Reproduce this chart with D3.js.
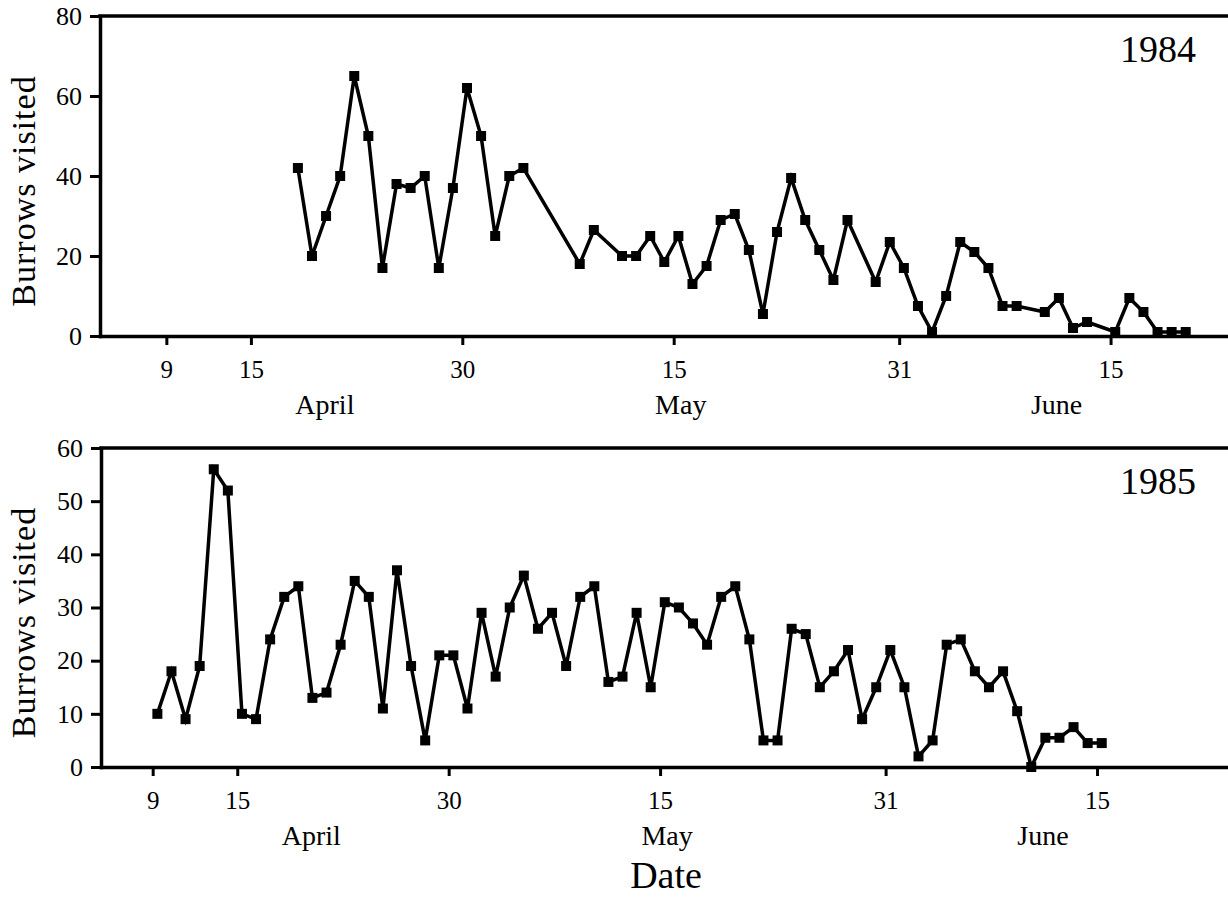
<!DOCTYPE html>
<html lang="en">
<head>
<meta charset="UTF-8"/>
<title>Burrows visited 1984 / 1985</title>
<script src="https://d3js.org/d3.v7.min.js"></script>
<style>
  body { margin: 0; background: #fff; }
  svg text { font-family: "Liberation Serif", "Times New Roman", serif; fill: #000; }
</style>
</head>
<body>
<div id="chart"></div>
<script>
// 1984 survey days (month-day) and burrows visited
var dates1984 = ["04-18","04-19","04-20","04-21","04-22","04-23","04-24","04-25","04-26","04-27",
  "04-28","04-29","04-30","05-01","05-02","05-03","05-04","05-08","05-09","05-11",
  "05-12","05-13","05-14","05-15","05-16","05-17","05-18","05-19","05-20","05-21",
  "05-22","05-23","05-24","05-25","05-26","05-27","05-29","05-30","05-31","06-01",
  "06-02","06-03","06-04","06-05","06-06","06-07","06-08","06-10","06-11","06-12",
  "06-13","06-15","06-16","06-17","06-18","06-19","06-20"];
var visits1984 = [42, 20, 30, 40, 65, 50, 17, 38, 37, 40,
  17, 37, 62, 50, 25, 40, 42, 18, 26.5, 20,
  20, 25, 18.5, 25, 13, 17.5, 29, 30.5, 21.5, 5.5,
  26, 39.5, 29, 21.5, 14, 29, 13.5, 23.5, 17, 7.5,
  1, 10, 23.5, 21, 17, 7.5, 7.5, 6, 9.5, 2,
  3.5, 1, 9.5, 6, 1, 1, 1];

// 1985 survey days and burrows visited
var dates1985 = ["04-09","04-10","04-11","04-12","04-13","04-14","04-15","04-16","04-17","04-18",
  "04-19","04-20","04-21","04-22","04-23","04-24","04-25","04-26","04-27","04-28",
  "04-29","04-30","05-01","05-02","05-03","05-04","05-05","05-06","05-07","05-08",
  "05-09","05-10","05-11","05-12","05-13","05-14","05-15","05-16","05-17","05-18",
  "05-19","05-20","05-21","05-22","05-23","05-24","05-25","05-26","05-27","05-28",
  "05-29","05-30","05-31","06-01","06-02","06-03","06-04","06-05","06-06","06-07",
  "06-08","06-09","06-10","06-11","06-12","06-13","06-14","06-15"];
var visits1985 = [10, 18, 9, 19, 56, 52, 10, 9, 24, 32,
  34, 13, 14, 23, 35, 32, 11, 37, 19, 5,
  21, 21, 11, 29, 17, 30, 36, 26, 29, 19,
  32, 34, 16, 17, 29, 15, 31, 30, 27, 23,
  32, 34, 24, 5, 5, 26, 25, 15, 18, 22,
  9, 15, 22, 15, 2, 5, 23, 24, 18, 15,
  18, 10.5, 0, 5.5, 5.5, 7.5, 4.5, 4.5];

// axis labels
var tickDates = ["04-09", "04-15", "04-30", "05-15", "05-31", "06-15"];
var tickLabels = ["9", "15", "30", "15", "31", "15"];
var months = ["April", "May", "June"];
var monthDates = ["04-20T06", "05-15T12", "06-11T04"];
var yTicks1984 = [0, 20, 40, 60, 80];
var yTicks1985 = [0, 10, 20, 30, 40, 50, 60];

var w = 1228, h = 899;
var parseTime = d3.utcParse("%Y-%m-%dT%H");

var svg = d3.select("#chart")
  .append("svg")
  .attr("width", w)
  .attr("height", h);

svg.append("rect").attr("width", w).attr("height", h).attr("fill", "#fff");

var panels = [
  {year: 1984, dates: dates1984, values: visits1984, yTicks: yTicks1984,
   left: 100, top: 16, bottom: 336, start: "04-04T07", end: "06-23T08"},
  {year: 1985, dates: dates1985, values: visits1985, yTicks: yTicks1985,
   left: 101, top: 448, bottom: 767, start: "04-05T08", end: "06-24T07"}
];

panels.forEach(function(p) {
  var x = d3.scaleUtc()
    .domain([parseTime(p.year + "-" + p.start), parseTime(p.year + "-" + p.end)])
    .range([p.left, w]);
  var y = d3.scaleLinear()
    .domain([0, d3.max(p.yTicks)])
    .range([p.bottom, p.top]);

  var g = svg.append("g");

  // top frame line
  g.append("line")
    .attr("x1", p.left).attr("x2", w)
    .attr("y1", p.top).attr("y2", p.top)
    .attr("stroke", "#000").attr("stroke-width", 3.5)
    .attr("stroke-linecap", "square");

  // x axis
  var xAxis = d3.axisBottom(x)
    .tickValues(tickDates.map(function(d) { return parseTime(p.year + "-" + d + "T00"); }))
    .tickFormat(function(d, i) { return tickLabels[i]; })
    .tickSize(9)
    .tickSizeOuter(0);
  var gx = g.append("g")
    .attr("transform", "translate(0," + p.bottom + ")")
    .call(xAxis);
  gx.selectAll("text")
    .attr("y", 42).attr("dy", null)
    .attr("font-size", 25);

  // y axis
  var yAxis = d3.axisLeft(y)
    .tickValues(p.yTicks)
    .tickSize(10)
    .tickSizeOuter(0)
    .tickPadding(8);
  var gy = g.append("g")
    .attr("transform", "translate(" + p.left + ",0)")
    .call(yAxis);
  gy.selectAll("text").attr("font-size", 26);

  [gx, gy].forEach(function(a) {
    a.attr("font-family", null);
    a.select(".domain").attr("stroke-width", 3.5).attr("stroke-linecap", "square");
    a.selectAll(".tick line").attr("stroke-width", 3);
  });

  // month names
  g.selectAll(".month")
    .data(months)
    .enter()
    .append("text")
    .attr("class", "month")
    .attr("x", function(d, i) { return x(parseTime(p.year + "-" + monthDates[i])); })
    .attr("y", p.bottom + 78)
    .attr("text-anchor", "middle")
    .attr("font-size", 28)
    .text(function(d) { return d; });

  // year label
  g.append("text")
    .attr("x", 1196)
    .attr("y", p.top + 46)
    .attr("text-anchor", "end")
    .attr("font-size", 38)
    .text(p.year);

  // y axis title
  g.append("text")
    .attr("transform", "translate(35," + ((p.top + p.bottom) / 2 + 15) + ") rotate(-90)")
    .attr("text-anchor", "middle")
    .attr("font-size", 34)
    .attr("letter-spacing", 1)
    .text("Burrows visited");

  var points = p.dates.map(function(d, i) {
    return {t: parseTime(p.year + "-" + d + "T08"), v: p.values[i]};
  });

  var line = d3.line()
    .x(function(d) { return x(d.t); })
    .y(function(d) { return y(d.v); });

  g.append("path")
    .datum(points)
    .attr("d", line)
    .attr("fill", "none")
    .attr("stroke", "#000")
    .attr("stroke-width", 3.5)
    .attr("stroke-linejoin", "miter")
    .attr("stroke-miterlimit", 4);

  g.selectAll(".pt")
    .data(points)
    .enter()
    .append("rect")
    .attr("class", "pt")
    .attr("x", function(d) { return x(d.t) - 5; })
    .attr("y", function(d) { return y(d.v) - 5; })
    .attr("width", 10)
    .attr("height", 10)
    .attr("fill", "#000");
});

// shared x title
svg.append("text")
  .attr("x", 666)
  .attr("y", 888)
  .attr("text-anchor", "middle")
  .attr("font-size", 38)
  .text("Date");
</script>
</body>
</html>
